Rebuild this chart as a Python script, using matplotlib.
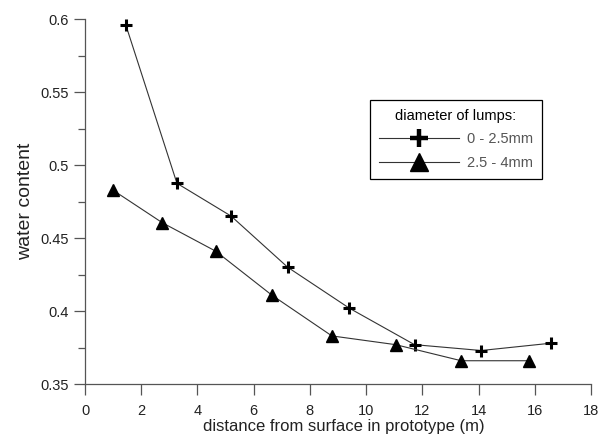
import numpy as np
import matplotlib.pyplot as plt
from matplotlib.ticker import MultipleLocator, FormatStrFormatter

plt.rcParams['font.family'] = ['Liberation Sans', 'DejaVu Sans']

# -------------------------------
# Data
# -------------------------------
dist_small = [1.45, 3.27, 5.2, 7.21, 9.4, 11.72, 14.09, 16.57]
water_small = [0.596, 0.4875, 0.465, 0.430, 0.402, 0.377, 0.373, 0.378]

dist_large = [0.98, 2.75, 4.65, 6.64, 8.78, 11.05, 13.38, 15.8]
water_large = [0.483, 0.4605, 0.441, 0.411, 0.383, 0.377, 0.366, 0.366]

labels = ["0 - 2.5mm", "2.5 - 4mm"]
y_ticks = [0.35, 0.4, 0.45, 0.5, 0.55, 0.6]

# -------------------------------
# Plot
# -------------------------------
fig = plt.figure(figsize=(6.05, 4.42), dpi=100)
ax = fig.add_axes([0.1405, 0.131, 0.8365, 0.826])

line_kw = dict(color="#333333", linewidth=0.8, markeredgecolor="black", markerfacecolor="black")
ax.plot(dist_small, water_small, marker="+", markersize=9, markeredgewidth=2.2,
        label=labels[0], **line_kw)
ax.plot(dist_large, water_large, marker="^", markersize=8.5, label=labels[1], **line_kw)

ax.set_xlim(0, 18)
ax.set_ylim(0.35, 0.6)
ax.set_xticks(np.arange(0, 19, 2))
ax.set_yticks(y_ticks)
ax.yaxis.set_minor_locator(MultipleLocator(0.025))
ax.yaxis.set_major_formatter(FormatStrFormatter("%g"))

for side in ["top", "right"]:
    ax.spines[side].set_visible(False)
for side in ["left", "bottom"]:
    ax.spines[side].set_color("#555555")
    ax.spines[side].set_linewidth(0.9)

ax.tick_params(axis="both", which="both", direction="out", colors="#555555",
               labelcolor="#222222", labelsize=10.5)
ax.tick_params(axis="both", which="major", length=8, width=0.9)
ax.tick_params(axis="x", which="major", pad=6)
ax.tick_params(axis="y", which="minor", length=5, width=0.9)

ax.set_xlabel("distance from surface in prototype (m)", fontsize=12, color="#222222", labelpad=1)
ax.xaxis.label.set_x(0.512)
ax.set_ylabel("water content", fontsize=14, color="#222222", labelpad=5)

leg = ax.legend(title="diameter of lumps:", loc="upper left", bbox_to_anchor=(0.563, 0.778),
                borderaxespad=0, fontsize=10.5, title_fontsize=10.5, handlelength=5.5,
                fancybox=False, edgecolor="black", framealpha=1, borderpad=0.6,
                labelspacing=0.65, handletextpad=0.55)
leg.get_frame().set_linewidth(0.9)
for txt in leg.get_texts():
    txt.set_color("#555555")
for h in leg.legend_handles:
    h.set_markersize(13)
leg.legend_handles[0].set_markeredgewidth(3.2)

fig.savefig("out.png", dpi=100)
